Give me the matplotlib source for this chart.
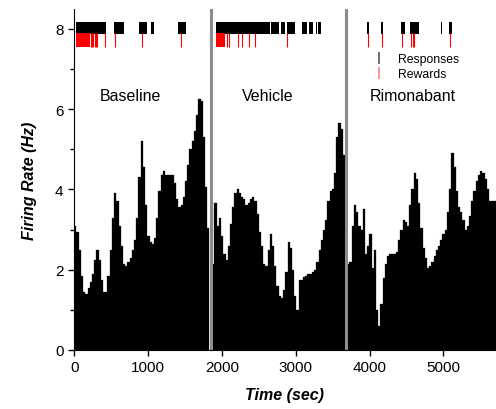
#!/usr/bin/env python3

import numpy as np
import matplotlib
matplotlib.use('Agg')
import matplotlib.pyplot as plt
from matplotlib.lines import Line2D

plt.rcParams['font.family'] = ['Liberation Sans', 'DejaVu Sans']

# firing rate (Hz) per 30 s bin, one list per session
bin_width = 30
sessions = ['Baseline', 'Vehicle', 'Rimonabant']
session_start = [0, 1869, 3698]
session_label_x = [760, 2620, 4590]
boundaries = [1851, 3683]

baseline_rate = [3.08, 2.95, 2.5, 1.85, 1.45, 1.4, 1.55, 1.7, 1.9, 2.25,
                 2.5, 2.25, 1.75, 1.45, 1.45, 1.85, 2.5, 3.3, 3.9, 3.7,
                 3.1, 2.6, 2.15, 2.1, 2.2, 2.3, 2.5, 2.75, 3.3, 4.3,
                 5.2, 4.55, 3.6, 2.85, 2.7, 2.65, 2.8, 3.3, 3.95, 4.35,
                 4.45, 4.35, 4.35, 4.37, 4.37, 4.15, 3.75, 3.55, 3.6, 3.8,
                 4.2, 4.6, 5.0, 5.2, 5.45, 5.85, 6.25, 6.2, 5.3, 4.05,
                 3.05]
vehicle_rate = [2.15, 3.65, 3.1, 3.3, 2.85, 2.4, 2.25, 2.6, 3.15, 3.55,
                3.9, 4.0, 3.9, 3.8, 3.75, 3.6, 3.65, 3.75, 3.8, 3.7,
                3.4, 2.95, 2.6, 2.15, 2.1, 2.5, 2.9, 2.6, 2.1, 1.6,
                1.35, 1.3, 1.5, 1.95, 2.7, 2.55, 2.0, 1.35, 1.0, 1.75,
                1.75, 1.83, 1.85, 1.9, 1.9, 1.95, 2.0, 2.2, 2.5, 2.75,
                3.0, 3.25, 3.7, 3.95, 4.0, 4.4, 5.3, 5.65, 5.5, 4.85]
rimonabant_rate = [2.15, 2.2, 3.1, 3.6, 3.45, 3.1, 3.0, 3.5, 2.4, 2.6,
                   2.9, 2.05, 2.5, 1.0, 0.6, 1.15, 1.8, 2.15, 2.35, 2.4,
                   2.4, 2.4, 2.45, 2.75, 3.0, 3.25, 3.2, 3.1, 3.6, 4.0,
                   4.4, 4.25, 3.65, 3.05, 2.55, 2.3, 2.05, 2.1, 2.2, 2.35,
                   2.5, 2.6, 2.75, 2.9, 3.0, 3.45, 4.0, 4.9, 4.55, 3.95,
                   3.55, 3.45, 3.25, 3.0, 3.1, 3.35, 3.7, 3.95, 4.2, 4.35,
                   4.45, 4.4, 4.25, 4.0, 3.7, 3.7, 3.7]

# lever responses: bursts (start, end) in seconds
response_bursts = [(22, 424), (537, 672), (875, 988), (1038, 1075), (1408, 1512),
                   (1919, 2655), (2670, 2780), (2795, 2860), (2875, 2989),
                   (3080, 3156), (3183, 3237), (3270, 3283), (3305, 3342),
                   (3969, 3996), (4150, 4186), (4425, 4480), (4547, 4669),
                   (4963, 4985), (5076, 5112)]
# rewards: dense bursts plus single deliveries
reward_bursts = [(25, 211), (1919, 2041)]
reward_times = [229, 243, 256, 275, 293, 306, 415, 550, 912, 1440,
                2063, 2099, 2212, 2275, 2366, 2447, 2885,
                3983, 4173, 4444, 4561, 4584, 4606, 5089]


def main():
    fig = plt.figure(figsize=(4.96, 4.10), dpi=100)
    ax = fig.add_axes([0.149, 0.144, 0.851, 0.832])

    rates = [baseline_rate, vehicle_rate, rimonabant_rate]
    for start, rate in zip(session_start, rates):
        x = start + bin_width * np.arange(len(rate))
        ax.bar(x, rate, width=bin_width, align='edge', color='black',
               edgecolor='black', linewidth=0.2)

    for b in boundaries:
        ax.axvline(b, color='#8c8c8c', linewidth=2.2)

    ax.broken_barh([(s, e - s) for s, e in response_bursts], (7.88, 0.29),
                   facecolors='black')
    ax.broken_barh([(s, e - s) for s, e in reward_bursts], (7.55, 0.34),
                   facecolors='red')
    ax.vlines(reward_times, 7.55, 7.89, color='red', linewidth=0.8)

    for name, xl in zip(sessions, session_label_x):
        ax.text(xl, 6.15, name, ha='center', va='bottom', fontsize=11.5)

    handles = [Line2D([], [], color='#555555', marker='|', linestyle='none',
                      markersize=9, markeredgewidth=1.2),
               Line2D([], [], color='#ff8080', marker='|', linestyle='none',
                      markersize=9, markeredgewidth=1.2)]
    ax.legend(handles, ['Responses', 'Rewards'], loc='upper left',
              bbox_to_anchor=(0.695, 0.885), frameon=False, fontsize=8.8,
              handlelength=1.2, handletextpad=0.9, labelspacing=0.25,
              borderaxespad=0)

    ax.set_xlim(-5, 5713)
    ax.set_ylim(0, 8.5)
    ax.set_xticks([0, 1000, 2000, 3000, 4000, 5000])
    ax.set_yticks([0, 2, 4, 6, 8])
    ax.set_yticks([1, 3, 5, 7], minor=True)
    ax.tick_params(direction='out', length=4, width=1, labelsize=11)
    ax.tick_params(which='minor', direction='out', length=3, width=1)
    ax.spines['top'].set_visible(False)
    ax.spines['right'].set_visible(False)

    ax.set_xlabel('Time (sec)', fontsize=11.5, fontweight='bold',
                  fontstyle='italic', labelpad=9)
    ax.set_ylabel('Firing Rate (Hz)', fontsize=11.5, fontweight='bold',
                  fontstyle='italic', labelpad=13)

    fig.savefig('out.png', dpi=100)


if __name__ == '__main__':
    main()
